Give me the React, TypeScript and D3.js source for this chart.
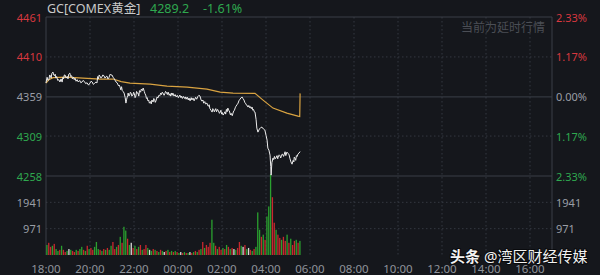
import React from "react";
import * as d3 from "d3";

const W = 600;
const H = 275;

const titleText = "GC[COMEX黄金]";
const lastPriceText = "4289.2";
const lastChangeText = "-1.61%";
const delayNote = "当前为延时行情";
const sourceLead = "头条";
const sourceName = " @湾区财经传媒";

const priceTicks = [4461, 4410, 4359, 4309, 4258];
const pctTicks = ["2.33%", "1.17%", "0.00%", "1.17%", "2.33%"];
const volTicks = [1941, 971];
const timeLabels = ["18:00", "20:00", "22:00", "00:00", "02:00", "04:00", "06:00", "08:00", "10:00", "12:00", "14:00", "16:00"];

// [minutes since 18:00, price]
const priceSeries: [number, number][] = [
  [0, 4376.7], [2, 4382], [3, 4384], [5, 4380], [8, 4381], [10, 4387], [12, 4386], [14, 4383], [16, 4389], [19, 4390.7],
  [21, 4387], [23, 4386], [25, 4388], [27, 4383], [29, 4385], [32, 4380], [35, 4381], [38, 4378], [41, 4382], [44, 4377.9],
  [46, 4384], [48, 4382], [50, 4387], [52, 4386.9], [55, 4383], [58, 4385], [60, 4382], [62, 4388], [65, 4389.4], [67, 4385],
  [70, 4386], [72, 4382], [75, 4384], [77, 4381], [79, 4383], [82, 4379], [85, 4381], [88, 4378], [92, 4380], [95, 4377],
  [98, 4377.9], [101, 4380], [105, 4378.5], [108, 4376], [112, 4377], [116, 4374], [120, 4376.7], [123, 4379], [126, 4378], [129, 4375],
  [132, 4376], [136, 4378], [139, 4376.7], [141, 4385], [143, 4382], [145, 4387], [147, 4385.6], [150, 4383], [152, 4384], [155, 4387],
  [158, 4386], [161, 4383], [163, 4384.5], [166, 4385.6], [169, 4382], [172, 4384], [175, 4388], [177, 4387], [180, 4386.9], [183, 4384],
  [185, 4383], [188, 4380.5], [191, 4378], [194, 4377], [198, 4373], [200, 4374], [202, 4371.5], [204, 4368], [206, 4372], [208, 4367],
  [210, 4366], [213, 4363.9], [216, 4358], [218, 4351.1], [220, 4356], [221, 4358], [223, 4361], [224, 4363.9], [226, 4360], [228, 4361],
  [230, 4365], [232, 4364], [234, 4360], [237, 4361.3], [239, 4365], [241, 4363], [243, 4358], [245, 4360], [247, 4366], [248, 4364],
  [251, 4363.9], [253, 4360], [255, 4367], [258, 4365], [260, 4369], [263, 4367], [265, 4370.3], [268, 4366], [270, 4363], [272, 4361.3],
  [274, 4357], [276, 4358], [278, 4354], [280, 4355], [282, 4351], [285, 4353], [287, 4350], [289, 4355], [292, 4352.4], [294, 4357],
  [296, 4356], [298, 4352], [300, 4354], [303, 4359], [305, 4357.5], [308, 4361], [310, 4360], [313, 4364], [315, 4362], [317, 4365],
  [319, 4363.9], [322, 4361], [324, 4363], [326, 4366], [328, 4365], [331, 4362], [333, 4365.2], [336, 4361], [338, 4363], [340, 4360],
  [342, 4364], [344, 4361], [346, 4363.9], [349, 4360], [352, 4362], [355, 4359], [358, 4361], [361, 4358], [365, 4361.3], [368, 4358],
  [370, 4360], [372, 4357], [375, 4359.5], [378, 4357], [380, 4359], [382, 4356], [385, 4358.8], [388, 4355], [390, 4357.5], [393, 4354],
  [396, 4358], [398, 4355], [401, 4357.5], [404, 4354], [408, 4358.5], [411, 4356], [414, 4359.5], [417, 4361], [420, 4360], [423, 4355],
  [425, 4353.6], [428, 4355], [430, 4351], [433, 4353], [435, 4350], [439, 4351.1], [441, 4348], [443, 4347], [445, 4349], [447, 4344],
  [450, 4342], [453, 4339.6], [455, 4344], [457, 4343], [459, 4340], [461, 4342.1], [463, 4344], [465, 4340], [468, 4343], [470, 4341.5],
  [473, 4338], [475, 4339.6], [477, 4342], [479, 4337], [481, 4339], [483, 4335.8], [486, 4338], [488, 4340], [490, 4337], [492, 4343],
  [494, 4340], [496, 4344.7], [498, 4342], [500, 4341], [503, 4336], [505, 4338], [508, 4335], [510, 4338.3], [512, 4341], [514, 4342],
  [516, 4345], [518, 4347], [521, 4349], [524, 4351.1], [526, 4354], [529, 4356], [532, 4358], [535, 4358.8], [537, 4357], [540, 4355],
  [542, 4352], [544, 4351], [546, 4349], [548, 4348.5], [551, 4346], [553, 4348], [556, 4345], [558, 4346.5], [560, 4344], [562, 4346],
  [564, 4342], [566, 4343], [568, 4340], [570, 4339.6], [573, 4330], [575, 4319.1], [578, 4314], [582, 4318], [586, 4320], [589, 4320.4],
  [593, 4318], [597, 4316.6], [600, 4310], [603, 4303.8], [605, 4293.6], [608, 4291], [611, 4284.6], [613, 4270], [614, 4259.1], [616, 4275],
  [619, 4280.8], [621, 4279], [623, 4283], [625, 4280], [627, 4281], [630, 4284], [632, 4280], [633, 4282.1], [636, 4285], [638, 4284],
  [640, 4281], [642, 4283], [644, 4286], [646, 4285.5], [648, 4283], [650, 4286], [652, 4289], [654, 4284], [657, 4288.5], [660, 4287],
  [663, 4285], [665, 4280.8], [668, 4276], [671, 4273.1], [674, 4278], [676, 4276], [677, 4282], [679, 4280.8], [681, 4278], [683, 4284],
  [685, 4283], [687, 4285.9], [690, 4287.2], [693, 4289.2],
];

const avgMinutes = [0, 8, 19, 57, 101, 147, 183, 205, 229, 284, 330, 385, 439, 475, 510, 570, 592, 619, 657, 687, 692, 693];
const avgPrices = [4376.7, 4381.0, 4383.5, 4384.3, 4383.0, 4381.8, 4381.8, 4378.5, 4376.7, 4375.4, 4372.8, 4371.5, 4369.0, 4365.2, 4363.9, 4363.5, 4354.9, 4344.7, 4338.3, 4334.5, 4334.0, 4363.5];

// volume per 5-minute bin starting 18:00
const volBinMinutes = 5;
const volumes = [
  370, 450, 300, 340, 410,
  220, 150, 190, 340, 190, 110, 150, 220, 190, 150, 110, 190, 150, 220, 300, 190, 150, 340, 220,
  260, 190, 300, 480, 220, 190, 150, 220, 190, 260, 190, 340, 480, 220,
  300, 370, 670, 450, 1040, 900, 600, 370, 450, 260, 340,
  220, 300, 370, 190, 220, 370, 260, 190, 150, 220, 190, 150, 110, 190, 150, 110, 150, 190, 110, 150, 110, 150, 110,
  75, 110, 75, 110, 75, 75, 110, 75, 110, 150, 110, 190, 220,
  480, 260, 370, 300, 450, 1300, 450, 340, 220, 300, 190,
  260, 220, 370, 300, 220, 260, 220, 190, 260, 480, 340, 300, 370, 220, 260, 190,
  150, 220, 300,
  1570, 930, 670, 750, 560, 1420,
  1790, 2980, 2130, 1190, 930, 750, 630, 560,
  670, 520, 750, 450, 600, 370, 520, 560, 450, 520,
];
const volDirections =
  "grrgrggrgr" + "rgwgrrgrgg" + "rgrgrrgggr" + "grgrggrrgr" + "grggrgwrgr" +
  "grgrrgwgrg" + "rgrgwrgrgr" + "grgwrgrgwr" + "grgrgrgrrr" + "ggrgrrgrgr" +
  "grwgrrgwrg" + "wrgrgggrgr" + "gggrrgrrgr" + "rgrgrrgrg";

const BG = "#15171c";
const RED = "#d8383f";
const GREEN = "#2fa84f";
const GRAY = "#9a9ea6";
const GRID = "#343840";
const FRAME = "#3b3f47";
const FONT = "'Noto Sans', 'Noto Sans CJK SC', Roboto, sans-serif";

export default function App() {
  const left = 46, right = 552, top = 17, mid = 176, bottom = 255;
  const x = d3.scaleLinear().domain([0, 1380]).range([left, right]);
  const y = d3.scaleLinear().domain([4258, 4461]).range([mid, top]);
  const yv = d3.scaleLinear().domain([0, 2912]).range([bottom, mid]);

  const line = d3.line<[number, number]>().x((d) => x(d[0])).y((d) => y(d[1]));
  const pricePath = line(priceSeries) || "";
  const avgPath = line(avgMinutes.map((m, i) => [m, avgPrices[i]]) as [number, number][]) || "";

  const tickColor = (v: number) => (v > 4360 ? RED : v < 4358 ? GREEN : GRAY);
  const gridMinutes = timeLabels.map((_, i) => i * 120);
  const barW = 1.3;

  return (
    <svg width={W} height={H} style={{ position: "absolute", left: 0, top: 0, background: BG }} fontFamily={FONT}>
      <rect x={0} y={0} width={W} height={H} fill={BG} />
      {gridMinutes.slice(1).map((m) => (
        <line key={"vg" + m} x1={x(m)} x2={x(m)} y1={top} y2={bottom} stroke={GRID} strokeDasharray="1.5,2.5" />
      ))}
      {priceTicks.map((t, i) => {
        if (i === 0) return null;
        const solid = i === 2 || i === 4;
        return (
          <line key={"hg" + t} x1={left} x2={right} y1={y(t)} y2={y(t)} stroke={solid ? FRAME : GRID}
            strokeDasharray={solid ? undefined : "1.5,2.5"} />
        );
      })}
      {volTicks.map((t) => (
        <line key={"vt" + t} x1={left} x2={right} y1={yv(t)} y2={yv(t)} stroke={GRID} strokeDasharray="1.5,2.5" />
      ))}
      <line x1={left} x2={right} y1={top} y2={top} stroke={FRAME} />
      <line x1={left} x2={left} y1={top} y2={bottom} stroke={FRAME} />
      <line x1={right} x2={right} y1={top} y2={bottom} stroke={FRAME} />

      <text x={545} y={27} textAnchor="end" dominantBaseline="central" fontSize={12} fill="#4b4e55">{delayNote}</text>

      {volumes.map((v, i) => {
        const c = volDirections[i];
        const col = c === "r" ? "#c8282e" : c === "g" ? "#2aa02f" : "#d8d8d8";
        const m = i * volBinMinutes + 2.5;
        return <rect key={"vb" + i} x={x(m) - barW / 2} y={yv(v)} width={barW} height={bottom - yv(v)} fill={col} />;
      })}

      <path d={avgPath} fill="none" stroke="#d9a341" strokeWidth={1.2} />
      <path d={pricePath} fill="none" stroke="#ececec" strokeWidth={1} strokeLinejoin="round" />

      {priceTicks.map((t) => (
        <text key={"pl" + t} x={42} y={y(t)} textAnchor="end" dominantBaseline="central" fontSize={11} fill={tickColor(t)}>{t}</text>
      ))}
      {pctTicks.map((p, i) => (
        <text key={"pr" + i} x={556} y={y(priceTicks[i])} dominantBaseline="central" fontSize={11} fill={tickColor(priceTicks[i])}>{p}</text>
      ))}
      {volTicks.map((t) => (
        <g key={"vl" + t}>
          <text x={42} y={yv(t)} textAnchor="end" dominantBaseline="central" fontSize={11} fill={GRAY}>{t}</text>
          <text x={556} y={yv(t)} dominantBaseline="central" fontSize={11} fill={GRAY}>{t}</text>
        </g>
      ))}
      {timeLabels.map((l, i) => (
        <text key={"tl" + l} x={x(i * 120)} y={268} textAnchor="middle" dominantBaseline="central" fontSize={11.5} fill="#8f939b">{l}</text>
      ))}

      <text x={47} y={8} dominantBaseline="central" fontSize={12.5} fill="#c9c9c9">{titleText}</text>
      <text x={150} y={8} dominantBaseline="central" fontSize={12.5} fill={GREEN}>{lastPriceText}</text>
      <text x={203} y={8} dominantBaseline="central" fontSize={12.5} fill={GREEN}>{lastChangeText}</text>

      <text x={450} y={262} fontSize={15} fill="#f2f2f2" stroke="rgba(0,0,0,0.55)" strokeWidth={2} paintOrder="stroke">
        <tspan fontWeight="bold">{sourceLead}</tspan>
        <tspan>{sourceName}</tspan>
      </text>
    </svg>
  );
}
